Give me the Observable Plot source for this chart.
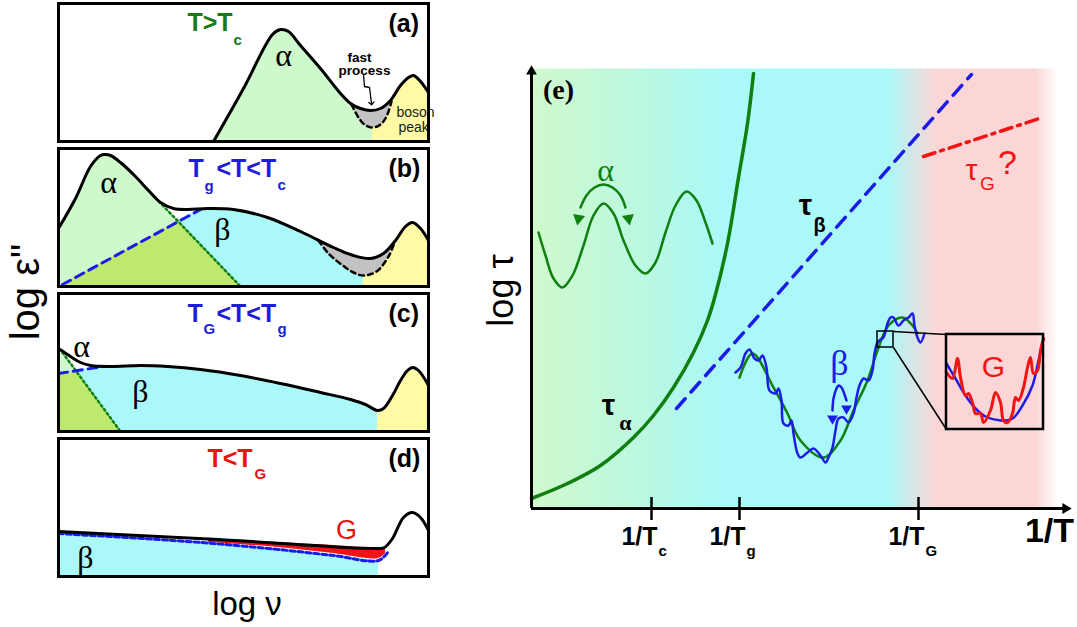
<!DOCTYPE html>
<html>
<head>
<meta charset="utf-8">
<script src="https://cdn.jsdelivr.net/npm/d3@7"></script>
<script src="https://cdn.jsdelivr.net/npm/@observablehq/plot@0.6"></script>
<style>
  body { margin: 0; background: #fff; }
  #fig { position: relative; width: 1077px; height: 627px; overflow: hidden; background: #fff;
         font-family: "Liberation Sans", Arial, sans-serif; }
  .axis-title { position: absolute; white-space: nowrap; color: #000; line-height: 1; }
  #epsLabel { left: 25px; top: 292px; font-size: 40px; transform: translate(-50%, -50%) rotate(-90deg); }
  #nuLabel { left: 247px; top: 603px; font-size: 33px; transform: translate(-50%, -50%); }
</style>
</head>
<body>
<div id="fig">
  <div class="axis-title" id="epsLabel">log ε"</div>
  <div class="axis-title" id="nuLabel">log ν</div>
</div>
<script>
// ---------- loss spectra, log ε'' vs log ν (arbitrary units, 0–370 × 0–138) ----------
// (a) T > Tc
const aLoss = [[155,0],[185,53],[214,107],[222,112],[230,110],[242,96],[262,73],[282,48],[292,38],
  [302,33],[312,31],[322,33],[332,41],[342,56],[350,64],[355,66],[362,60],[370,49]];
const aFastDip = [[293,37],[300,24],[306,17],[314,14],[322,17],[328,25],[333,40]];
const aHopArrow = [[305,67],[306,55],[311,54],[313,38]];

// (b) Tg < T < Tc
const bLoss = [[0,58],[17,88],[32,120],[42,131],[46,132],[52,131],[62,124],[77,110],[90,96],[102,84],
  [115,78],[129,77],[149,78],[175,77],[209,69],[242,55],[275,39],[295,31],[312,28],[325,33],[337,46],
  [347,60],[354,64],[362,58],[370,46]];
const bFastDip = [[260,46],[270,33],[283,22],[295,14],[305,11],[318,15],[330,30],[336,44]];
const bAlphaEdge = [[90,96],[182,0]];
const bBetaEdge = [[4,2],[142,77]];
const bOverlap = [[4,2],[120,65],[182,0]];

// (c) TG < T < Tg
const cLoss = [[0,83],[12,75],[22,69],[32,66],[52,65],[82,66],[109,65],[142,62],[182,56],[222,48],
  [262,39],[292,32],[307,27],[319,21],[325,23],[334,36],[342,51],[349,61],[354,64],[360,61],[370,46]];
const cAlphaEdge = [[4,79],[62,0]];
const cBetaEdge = [[0,58],[45,65]];
const cOverlap = [[0,58],[17.5,61],[62,0]];

// (d) T < TG
const dLoss = [[0,45],[160,37],[320,28],[326,29],[334,38],[345,59],[354,64],[362,59],[370,46]];
const dBeta = [[0,43],[100,37],[155,33],[220,27],[275,21],[320,16],[329,24]];
const dGlassBand = [[150,34,37],[220,29,34],[275,23,31],[320,18,28],[327,23,29]]; // x, lower, upper

// ---------- relaxation map, log τ vs 1/T (arbitrary units, 0–539 × 0–440) ----------
const tauAlpha = [[0,10],[36,25],[69,43],[102,71],[122,93],[142,121],[162,156],[176,188],[184,214],
  [196,265],[207,331],[216,385],[222,435]];
const tauBeta = [[145,100],[440,434]];
const tauG = [[392,352],[511,391]];
const alphaWell = [[7,276],[14,253],[22,230],[31,221],[41,233],[52,263],[62,293],[72,305],[82,295],
  [92,268],[104,243],[114,235],[124,246],[134,276],[144,303],[155,317],[165,308],[174,286],[181,265]];
const alphaHop = [[49,301],[55,313],[63,321],[72,324],[81,321],[89,313],[94,301]];
const alphaHopHeads = [[47,290,190],[97,290,170]]; // x, y, direction (deg)
const betaSmooth = [[208,131],[221,155],[242,121],[256,95],[269,68],[292,51],[309,68],[322,98],
  [336,128],[346,158],[357,183],[371,191],[381,183],[386,175]];
const betaRough = [[204,136],[209,141],[214,155],[218,159],[223,150],[227,148],[231,153],[235,141],
  [238,118],[244,115],[247,120],[250,108],[252,85],[257,83],[260,88],[262,75],[266,55],[269,51],
  [276,56],[282,60],[289,53],[294,46],[297,51],[301,61],[304,78],[307,90],[312,91],[317,86],[322,95],
  [325,111],[328,123],[332,130],[337,128],[341,138],[343,155],[346,166],[349,169],[352,171],[356,185],
  [359,191],[362,191],[367,183],[372,188],[377,191],[381,195],[383,183],[386,171],[389,166],[393,175]];
const betaHop = [[301,98],[302,110],[305,120],[307,123],[310,121],[313,114],[315,108]];
const betaHopHeads = [[301,90,180],[315,100,180]];
const zoomWindow = {x1: 346, x2: 362, y1: 161, y2: 177};
const insetBox = {x1: 415, x2: 512, y1: 79, y2: 174};
const insetSmooth = [[415,145],[424,130],[434,113],[444,100],[454,92],[469,88],[481,90],[491,103],
  [501,123],[507,148],[512,170]];
const insetRough = [[415,136],[421,130],[426,150],[429,131],[434,113],[437,115],[441,106],[444,95],
  [449,95],[452,86],[459,98],[464,116],[469,106],[472,88],[476,86],[481,95],[484,111],[487,108],
  [492,121],[496,141],[499,151],[502,135],[506,138],[509,158],[512,170]];
const inverseTemps = [{at: 120, sub: "c"}, {at: 208, sub: "g"}, {at: 387, sub: "G"}];

// ---------- styling ----------
const SANS = "Liberation Sans, Arial, sans-serif";
const SERIF = "Liberation Serif, Times New Roman, serif";
const GREEN_FILL = "#cdf9cd", CYAN = "#aaf8f8", OLIVE = "#bde96f", YELLOW = "#fffaa6", GRAY = "#c2c2c2";
const BLUE = "#1c1ce6", GREEN = "#0f7f0f", RED = "#f01414";
const H_GREEN = "#167a16", H_BLUE = "#1e1ed8", H_RED = "#ee1111";

const X = d => d[0], Y = d => d[1];
const between = (lo, hi) => ([x]) => x >= lo && x <= hi;

function note(text, x, y, {size = 25, weight = "bold", color = "black", family = SANS, anchor = "start", rotate = 0} = {}) {
  return Plot.text([text], {x, y, text: d => d, fontSize: size, fontWeight: weight, fill: color,
    fontFamily: family, textAnchor: anchor, rotate});
}
const fillUnder = (pts, fill, curve = "catmull-rom") => Plot.areaY(pts, {x: X, y1: 0, y2: Y, fill, curve});
const curveLine = (pts, o) => Plot.line(pts, {x: X, y: Y, curve: "catmull-rom", ...o});
const heads = (pts, fill, r = 4.5) =>
  Plot.dot(pts, {x: X, y: Y, rotate: d => d[2], symbol: "triangle", r, fill, stroke: "none"});

const fig = document.getElementById("fig");
const PW = 370, PH = 138, PM = 4;

function place(svg, left, top) {
  Object.assign(svg.style, {position: "absolute", left: left + "px", top: top + "px",
    overflow: "visible", background: "transparent", maxWidth: "none"});
  fig.append(svg);
}

function spectrum(top, marks) {
  const svg = Plot.plot({
    width: PW + 2 * PM, height: PH + 2 * PM, margin: PM,
    x: {domain: [0, PW], axis: null}, y: {domain: [0, PH], axis: null},
    marks: [...marks, Plot.frame({stroke: "black", strokeWidth: 3})]
  });
  place(svg, 58 - PM, top - PM);
}

// (a)
spectrum(3, [
  fillUnder(aLoss.filter(between(282, 342)), GRAY),
  fillUnder([...aLoss.filter(([x]) => x <= 292), ...aFastDip.filter(between(294, 314))], GREEN_FILL),
  fillUnder([...aFastDip.filter(([x]) => x >= 314), ...aLoss.filter(([x]) => x > 333)], YELLOW),
  curveLine(aFastDip, {stroke: "black", strokeWidth: 2.5, strokeDasharray: "5,4"}),
  curveLine(aLoss, {stroke: "black", strokeWidth: 3}),
  Plot.line(aHopArrow, {x: X, y: Y, stroke: "black", strokeWidth: 1.3, markerEnd: "arrow"}),
  note("T>T", 129, 119, {color: H_GREEN}),
  note("c", 175, 101, {color: H_GREEN, size: 15}),
  note("(a)", 330, 118),
  note("α", 225, 86, {family: SERIF, weight: "normal", size: 32, anchor: "middle"}),
  note("fast", 301, 84, {size: 13.5, anchor: "middle"}),
  note("process", 306, 71, {size: 13.5, anchor: "middle"}),
  note("boson", 338, 29, {size: 14, weight: "normal", color: "#1a1a1a"}),
  note("peak", 340, 14, {size: 14, weight: "normal", color: "#1a1a1a"})
]);

// (b)
spectrum(148, [
  fillUnder(bLoss.filter(between(242, 347)), GRAY),
  fillUnder([...bBetaEdge, ...bLoss.filter(([x]) => x >= 149 && x < 260), ...bFastDip.filter(([x]) => x <= 305)], CYAN),
  fillUnder([...bFastDip.filter(([x]) => x >= 305), ...bLoss.filter(([x]) => x > 336)], YELLOW),
  fillUnder([...bLoss.filter(([x]) => x < 90), ...bAlphaEdge], GREEN_FILL),
  fillUnder(bOverlap, OLIVE, "linear"),
  curveLine(bFastDip, {stroke: "black", strokeWidth: 2.5, strokeDasharray: "5,4"}),
  Plot.line(bAlphaEdge, {x: X, y: Y, stroke: GREEN, strokeWidth: 2.5, strokeDasharray: "2,3"}),
  Plot.line(bBetaEdge, {x: X, y: Y, stroke: BLUE, strokeWidth: 3, strokeDasharray: "9,6"}),
  curveLine(bLoss, {stroke: "black", strokeWidth: 3}),
  note("T", 130, 118, {color: H_BLUE}),
  note("g", 146, 100, {color: H_BLUE, size: 15}),
  note("<T<T", 158, 118, {color: H_BLUE}),
  note("c", 219, 101, {color: H_BLUE, size: 15}),
  note("(b)", 330, 118),
  note("α", 50, 104, {family: SERIF, weight: "normal", size: 32, anchor: "middle"}),
  note("β", 164, 57, {family: SERIF, weight: "normal", size: 32, anchor: "middle"})
]);

// (c)
spectrum(293, [
  fillUnder([...cBetaEdge, ...cLoss.filter(between(52, 319))], CYAN),
  fillUnder(cLoss.filter(([x]) => x >= 319), YELLOW),
  fillUnder([cLoss[0], ...cAlphaEdge], GREEN_FILL, "linear"),
  fillUnder(cOverlap, OLIVE, "linear"),
  Plot.line(cAlphaEdge, {x: X, y: Y, stroke: GREEN, strokeWidth: 2.5, strokeDasharray: "2,3"}),
  Plot.line(cBetaEdge, {x: X, y: Y, stroke: BLUE, strokeWidth: 3, strokeDasharray: "9,6"}),
  curveLine(cLoss, {stroke: "black", strokeWidth: 3}),
  note("T", 129, 118, {color: H_BLUE}),
  note("G", 145, 102, {color: H_BLUE, size: 15}),
  note("<T<T", 158, 118, {color: H_BLUE}),
  note("g", 219, 102, {color: H_BLUE, size: 15}),
  note("(c)", 330, 118),
  note("α", 23, 85, {family: SERIF, weight: "normal", size: 32, anchor: "middle"}),
  note("β", 82, 40, {family: SERIF, weight: "normal", size: 32, anchor: "middle"})
]);

// (d)
spectrum(438, [
  fillUnder(dBeta.filter(([x]) => x <= 320), CYAN),
  Plot.areaY(dGlassBand, {x: X, y1: d => d[1], y2: d => d[2], fill: RED, curve: "catmull-rom"}),
  curveLine(dBeta, {stroke: BLUE, strokeWidth: 3, strokeDasharray: "5,3"}),
  curveLine(dLoss, {stroke: "black", strokeWidth: 3}),
  note("T<T", 149, 118, {color: H_RED}),
  note("G", 196, 102, {color: H_RED, size: 15}),
  note("(d)", 330, 118),
  note("G", 288, 46, {color: H_RED, size: 27, weight: "normal", anchor: "middle"}),
  note("β", 27, 19, {family: SERIF, weight: "normal", size: 32, anchor: "middle"})
]);

// (e) relaxation map
const ePlot = Plot.plot({
  width: 607, height: 520,
  marginLeft: 61, marginRight: 7, marginTop: 18, marginBottom: 62,
  x: {domain: [0, 539], axis: null}, y: {domain: [0, 440], axis: null},
  marks: [
    Plot.frame({fill: "url(#regimes)", stroke: "none"}),
    // α hopping in the rugged landscape
    curveLine(alphaWell, {stroke: GREEN, strokeWidth: 2.5}),
    curveLine(alphaHop, {stroke: GREEN, strokeWidth: 2.5}),
    heads(alphaHopHeads, GREEN),
    // timescales
    curveLine(tauAlpha, {stroke: GREEN, strokeWidth: 3.5}),
    Plot.line(tauBeta, {x: X, y: Y, stroke: BLUE, strokeWidth: 3.5, strokeDasharray: "13,9"}),
    Plot.line(tauG, {x: X, y: Y, stroke: RED, strokeWidth: 3.5, strokeDasharray: "12,6,3,6"}),
    // β landscape below Tg
    curveLine(betaSmooth, {stroke: GREEN, strokeWidth: 2.5}),
    curveLine(betaRough, {stroke: BLUE, strokeWidth: 2.5}),
    curveLine(betaHop, {stroke: BLUE, strokeWidth: 2.5}),
    heads(betaHopHeads, BLUE, 4),
    // magnified Gardner basin
    Plot.rect([zoomWindow], {x1: "x1", x2: "x2", y1: "y1", y2: "y2", fill: "none", stroke: "black", strokeWidth: 1.5}),
    Plot.link([zoomWindow], {x1: "x2", y1: "y2", x2: () => insetBox.x1, y2: () => insetBox.y2, stroke: "black", strokeWidth: 1.5}),
    Plot.link([zoomWindow], {x1: "x2", y1: "y1", x2: () => insetBox.x1, y2: () => insetBox.y1, stroke: "black", strokeWidth: 1.5}),
    curveLine(insetSmooth, {stroke: BLUE, strokeWidth: 2.5}),
    curveLine(insetRough, {stroke: RED, strokeWidth: 3}),
    Plot.rect([insetBox], {x1: "x1", x2: "x2", y1: "y1", y2: "y2", fill: "none", stroke: "black", strokeWidth: 2.5}),
    // axes
    Plot.ruleX([0], {y1: 0, y2: 436, stroke: "black", strokeWidth: 3}),
    Plot.ruleY([0], {x1: 0, x2: 533, stroke: "black", strokeWidth: 3}),
    heads([[0, 437, 0], [534, 0, 90]], "black", 4),
    Plot.ruleX(inverseTemps, {x: "at", y1: -12, y2: 11, stroke: "black", strokeWidth: 2.5}),
    Plot.text(inverseTemps, {x: "at", y: -28, text: () => "1/T", dx: 6, textAnchor: "end",
      fontSize: 25, fontWeight: "bold", fontFamily: SANS}),
    Plot.text(inverseTemps, {x: "at", y: -43, text: "sub", dx: 7, textAnchor: "start",
      fontSize: 15, fontWeight: "bold", fontFamily: SANS}),
    note("1/T", 518, -23, {size: 34, anchor: "middle"}),
    note("log τ", -30, 218, {size: 36, weight: "normal", anchor: "middle", rotate: -90}),
    note("(e)", 27, 418, {family: SERIF, size: 28, anchor: "middle"}),
    // labels
    note("α", 74, 338, {family: SERIF, weight: "normal", size: 32, color: GREEN, anchor: "middle"}),
    note("β", 308, 145, {family: SERIF, weight: "normal", size: 36, color: BLUE, anchor: "middle"}),
    note("G", 462, 141, {size: 30, weight: "normal", color: RED, anchor: "middle"}),
    note("τ", 77, 103, {size: 30, anchor: "middle"}),
    note("α", 94, 86, {family: SERIF, size: 22, anchor: "middle"}),
    note("τ", 274, 303, {size: 30, anchor: "middle"}),
    note("β", 288, 283, {size: 20, anchor: "middle"}),
    note("τ", 440, 338, {size: 30, weight: "normal", color: RED, anchor: "middle"}),
    note("G", 456, 325, {size: 19, weight: "normal", color: RED, anchor: "middle"}),
    note("?", 476, 345, {size: 34, weight: "normal", color: RED, anchor: "middle"})
  ]
});

// horizontal colour wash marking the temperature regimes
const grad = d3.select(ePlot).insert("defs", ":first-child")
  .append("linearGradient").attr("id", "regimes")
  .attr("x1", 0).attr("x2", 1).attr("y1", 0).attr("y2", 0);
[[0, "#d0f9cc"], [0.22, "#b9f8e2"], [0.35, "#aaf8f7"], [0.66, "#aaf8f8"], [0.75, "#fcd6d6"],
 [0.935, "#fcd6d6"], [0.976, "#ffffff"], [1, "#ffffff"]]
  .forEach(([o, c]) => grad.append("stop").attr("offset", o).attr("stop-color", c));

place(ePlot, 470, 50);
</script>
</body>
</html>
